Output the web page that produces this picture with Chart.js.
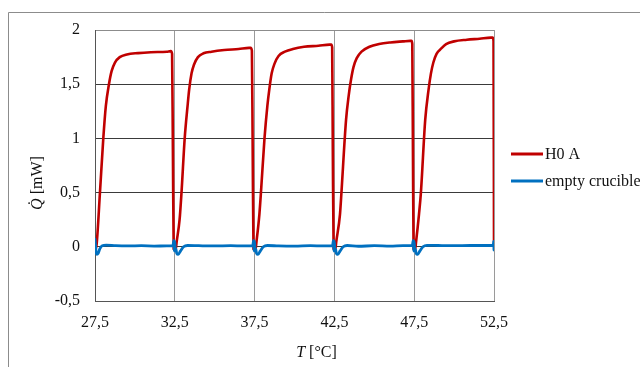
<!DOCTYPE html>
<html>
<head>
<meta charset="utf-8">
<script src="https://cdn.jsdelivr.net/npm/chart.js@4.4.1/dist/chart.umd.min.js"></script>
<style>
html,body{margin:0;padding:0;background:#fff;}
#wrap{position:relative;width:640px;height:367px;}
</style>
</head>
<body>
<div id="wrap"><canvas id="c" width="640" height="367"></canvas></div>
<script>
// ---- data ----
const seriesNames = ["H0 A", "empty crucible"];
const xTickValues = [27.5, 32.5, 37.5, 42.5, 47.5, 52.5];
const yTickValues = [-0.5, 0, 0.5, 1, 1.5, 2];
const yTickLabels = ["-0,5", "0", "0,5", "1", "1,5", "2"];

const h0aT = [
  27.52, 27.60, 27.81, 28.02, 28.18, 28.375, 28.54, 28.75, 29.05, 29.50, 30.20, 31.00, 32.00, 32.25, 32.33, 32.38, 32.43,
  32.55, 32.62, 32.80, 32.92, 33.12, 33.30, 33.40, 33.55, 33.70, 33.95, 34.30, 34.80, 35.60, 36.50, 37.15, 37.25, 37.33, 37.38, 37.43,
  37.55, 37.62, 37.80, 37.92, 38.12, 38.30, 38.42, 38.57, 38.75, 39.00, 39.40, 39.90, 40.60, 41.50, 42.20, 42.30, 42.36, 42.40, 42.45,
  42.55, 42.62, 42.85, 42.92, 43.23, 43.40, 43.55, 43.70, 43.90, 44.20, 44.70, 45.30, 46.00, 46.80, 47.25, 47.33, 47.38, 47.42, 47.46,
  47.55, 47.62, 47.80, 47.92, 48.19, 48.40, 48.55, 48.70, 48.90, 49.20, 49.50, 50.00, 50.80, 51.60, 52.30, 52.42, 52.47, 52.50
];
const h0aQ = [
  -0.03, 0.02, 0.50, 1.00, 1.30, 1.50, 1.62, 1.70, 1.75, 1.775, 1.787, 1.795, 1.80, 1.805, 1.78, 0.90, -0.02,
  -0.03, 0.05, 0.25, 0.50, 1.00, 1.30, 1.45, 1.60, 1.68, 1.75, 1.785, 1.80, 1.815, 1.825, 1.835, 1.835, 1.81, 0.90, -0.02,
  -0.03, 0.05, 0.30, 0.55, 1.00, 1.30, 1.45, 1.60, 1.69, 1.76, 1.80, 1.825, 1.845, 1.855, 1.865, 1.865, 1.84, 0.90, -0.02,
  -0.03, 0.05, 0.30, 0.45, 1.17, 1.40, 1.55, 1.66, 1.74, 1.80, 1.845, 1.87, 1.885, 1.895, 1.90, 1.90, 1.87, 0.90, -0.02,
  -0.03, 0.05, 0.30, 0.50, 1.17, 1.45, 1.60, 1.70, 1.78, 1.83, 1.87, 1.895, 1.91, 1.92, 1.93, 1.93, 1.90, 0.05
];

const emptyT = [
  27.50, 27.53, 27.57, 27.62, 27.70, 27.80, 27.95, 28.20, 28.80, 29.60, 30.40, 31.20, 32.00, 32.38,
  32.44, 32.47, 32.50, 32.53, 32.57, 32.62, 32.72, 32.85, 33.05, 33.30, 34.00, 35.00, 36.00, 36.80, 37.38,
  37.44, 37.47, 37.50, 37.53, 37.57, 37.62, 37.72, 37.85, 38.05, 38.30, 39.00, 40.00, 41.00, 41.80, 42.38,
  42.44, 42.47, 42.50, 42.53, 42.57, 42.62, 42.72, 42.85, 43.05, 43.30, 44.00, 45.00, 46.00, 46.80, 47.38,
  47.44, 47.47, 47.50, 47.53, 47.57, 47.62, 47.72, 47.85, 48.05, 48.30, 49.00, 50.00, 51.00, 51.80, 52.40,
  52.45, 52.48, 52.50
];
const emptyQ = [
  0.07, 0.02, -0.05, -0.07, -0.06, -0.02, 0.01, 0.015, 0.010, 0.008, 0.010, 0.007, 0.008, 0.008,
  0.06, -0.04, 0.05, -0.03, -0.02, -0.06, -0.07, -0.04, 0.00, 0.012, 0.010, 0.008, 0.010, 0.008, 0.008,
  0.06, -0.04, 0.05, -0.03, -0.02, -0.06, -0.07, -0.04, 0.00, 0.012, 0.008, 0.006, 0.010, 0.008, 0.008,
  0.06, -0.04, 0.05, -0.03, -0.02, -0.06, -0.07, -0.04, 0.00, 0.012, 0.005, 0.010, 0.006, 0.010, 0.010,
  0.06, -0.04, 0.05, -0.03, -0.02, -0.06, -0.07, -0.04, 0.00, 0.014, 0.012, 0.010, 0.012, 0.012, 0.012,
  0.01, 0.05, -0.03
];
const seriesColors = ["#C00000", "#0070C0"];

// ---- helpers ----
const toPts = (xs, ys) => xs.map((x, i) => ({ x: x, y: ys[i] }));
const SERIF = "'Liberation Serif', 'Times New Roman', serif";

const decorPlugin = {
  id: 'decor',
  beforeDraw(chart) {
    const ctx = chart.ctx;
    ctx.save();
    ctx.fillStyle = '#fff';
    ctx.fillRect(0, 0, chart.width, chart.height);
    ctx.strokeStyle = '#8c8c8c';
    ctx.lineWidth = 1;
    ctx.beginPath();
    ctx.moveTo(8.5, 367);
    ctx.lineTo(8.5, 12.5);
    ctx.lineTo(640, 12.5);
    ctx.stroke();
    ctx.restore();
  },
  afterDraw(chart) {
    const ctx = chart.ctx;
    ctx.save();
    ctx.fillStyle = '#111';
    ctx.textBaseline = 'alphabetic';
    // x title
    const fI = "italic 16px " + SERIF, fN = "16px " + SERIF;
    ctx.font = fI; const wT = ctx.measureText("T").width;
    ctx.font = fN; const wR = ctx.measureText(" [°C]").width;
    const cx = (chart.chartArea.left + chart.chartArea.right) / 2 + 22;
    let sx = cx - (wT + wR) / 2;
    ctx.font = fI; ctx.fillText("T", sx, 357);
    ctx.font = fN; ctx.fillText(" [°C]", sx + wT, 357);
    // y title
    ctx.save();
    ctx.translate(42, 183);
    ctx.rotate(-Math.PI / 2);
    ctx.font = fI; const wQ = ctx.measureText("Q\u0307").width;
    ctx.font = fN; const wU = ctx.measureText(" [mW]").width;
    let sy = -(wQ + wU) / 2;
    ctx.font = fI; ctx.fillText("Q\u0307", sy, 0);
    ctx.font = fN; ctx.fillText(" [mW]", sy + wQ, 0);
    ctx.restore();
    // legend
    const ys = [154, 181];
    ctx.font = fN;
    ctx.textBaseline = 'middle';
    seriesNames.forEach((name, i) => {
      ctx.strokeStyle = seriesColors[i];
      ctx.lineWidth = 3;
      ctx.beginPath();
      ctx.moveTo(511, ys[i]);
      ctx.lineTo(543, ys[i]);
      ctx.stroke();
      ctx.fillStyle = '#111';
      ctx.fillText(name, 545, ys[i] + 1);
    });
    ctx.restore();
  }
};

new Chart(document.getElementById('c'), {
  type: 'line',
  data: {
    datasets: [
      {
        label: seriesNames[0], data: toPts(h0aT, h0aQ),
        borderColor: seriesColors[0], borderWidth: 2.6, pointRadius: 0,
        cubicInterpolationMode: 'monotone', borderJoinStyle: 'round', borderCapStyle: 'round', order: 2
      },
      {
        label: seriesNames[1], data: toPts(emptyT, emptyQ),
        borderColor: seriesColors[1], borderWidth: 2.8, pointRadius: 0,
        cubicInterpolationMode: 'monotone', borderJoinStyle: 'round', borderCapStyle: 'round', order: 1
      }
    ]
  },
  options: {
    responsive: false,
    maintainAspectRatio: false,
    animation: false,
    layout: { padding: { left: 0, top: 30, right: 146, bottom: 0 } },
    plugins: { legend: { display: false }, tooltip: { enabled: false } },
    scales: {
      x: {
        type: 'linear', min: 27.5, max: 52.5,
        afterBuildTicks: s => { s.ticks = xTickValues.map(v => ({ value: v })); },
        afterFit: s => { s.height = 66; },
        grid: { color: '#9a9a9a', lineWidth: 1, drawTicks: false },
        border: { color: '#555', width: 1 },
        ticks: {
          padding: 12, color: '#111', font: { family: SERIF, size: 16 },
          maxRotation: 0, autoSkip: false,
          callback: v => v.toFixed(1).replace('.', ',')
        }
      },
      y: {
        min: -0.5, max: 2,
        afterBuildTicks: s => { s.ticks = yTickValues.map(v => ({ value: v })); },
        afterFit: s => { s.width = 95; },
        grid: {
          color: c => (c.tick && c.tick.value === 2) ? '#8c8c8c' : '#3a3a3a',
          lineWidth: 1, drawTicks: false
        },
        border: { color: '#555', width: 1 },
        ticks: {
          padding: 15, color: '#111', font: { family: SERIF, size: 16 },
          callback: (v) => yTickLabels[yTickValues.indexOf(v)]
        }
      }
    }
  },
  plugins: [decorPlugin]
});
</script>
</body>
</html>
